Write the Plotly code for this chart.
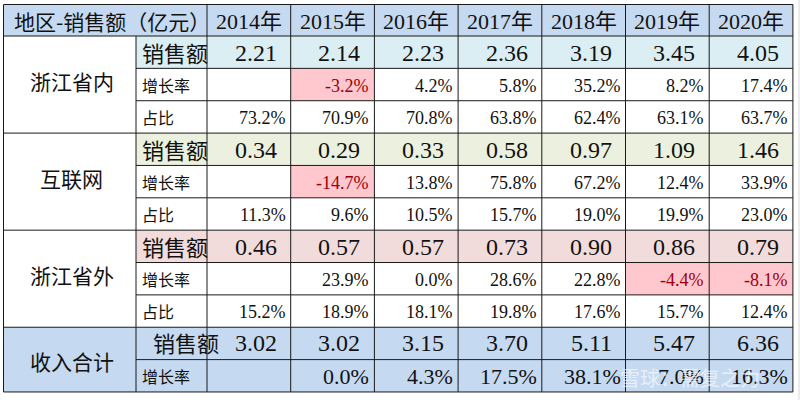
import plotly.graph_objects as go

# ---------------- data ----------------
header_label = "地区-销售额（亿元）"
years = ["2014年", "2015年", "2016年", "2017年", "2018年", "2019年", "2020年"]
regions = ["浙江省内", "互联网", "浙江省外"]
total_label = "收入合计"
metric_labels = ["销售额", "增长率", "占比"]

sales_zj = [2.21, 2.14, 2.23, 2.36, 3.19, 3.45, 4.05]
growth_zj = [None, -3.2, 4.2, 5.8, 35.2, 8.2, 17.4]
share_zj = [73.2, 70.9, 70.8, 63.8, 62.4, 63.1, 63.7]

sales_net = [0.34, 0.29, 0.33, 0.58, 0.97, 1.09, 1.46]
growth_net = [None, -14.7, 13.8, 75.8, 67.2, 12.4, 33.9]
share_net = [11.3, 9.6, 10.5, 15.7, 19.0, 19.9, 23.0]

sales_out = [0.46, 0.57, 0.57, 0.73, 0.90, 0.86, 0.79]
growth_out = [None, 23.9, 0.0, 28.6, 22.8, -4.4, -8.1]
share_out = [15.2, 18.9, 18.1, 19.8, 17.6, 15.7, 12.4]

total_sales = [3.02, 3.02, 3.15, 3.70, 5.11, 5.47, 6.36]
total_growth = [None, 0.0, 4.3, 17.5, 38.1, 7.0, 16.3]

watermark = "雪球：需复之力"

# ---------------- styling / layout ----------------
W, H = 800, 400
X0 = 3.5
COL_W = [132.5, 71] + [83.7] * 7
Y0 = 4.5
HEAD_H = 31.5
ROW_H = 32.36

HEADER_FILL = "#C5D9F1"
SALES_FILLS = ["#DAEEF3", "#EBF1DE", "#F2DCDB"]
NEG_FILL = "#FFC7CE"
NEG_TEXT = "#9C0006"
TOTAL_FILL = "#C5D9F1"
LINE = "#1a1a1a"

CJK = "Noto Sans CJK SC"
NUM = "Liberation Serif, Noto Sans CJK SC"

col_edges = [X0]
for w in COL_W:
    col_edges.append(col_edges[-1] + w)
n_rows = 11
row_edges = [Y0, Y0 + HEAD_H]
for i in range(n_rows):
    row_edges.append(row_edges[-1] + ROW_H)

shapes = []
annotations = []


def rect(x0, x1, y0, y1, fill):
    shapes.append(dict(type="rect", xref="x", yref="y", x0=x0, x1=x1, y0=y0, y1=y1,
                       fillcolor=fill, line=dict(width=0), layer="below"))


def hline(x0, x1, y):
    shapes.append(dict(type="line", xref="x", yref="y", x0=x0, x1=x1, y0=y, y1=y,
                       line=dict(color=LINE, width=1)))


def vline(x, y0, y1):
    shapes.append(dict(type="line", xref="x", yref="y", x0=x, x1=x, y0=y0, y1=y1,
                       line=dict(color=LINE, width=1)))


def text(x, y, s, size, family, color="#111111", anchor="center"):
    annotations.append(dict(x=x, y=y, xref="x", yref="y", text=s, showarrow=False,
                            xanchor=anchor, yanchor="middle",
                            font=dict(size=size, family=family, color=color)))


def cy(r):  # r: body row index 0..10
    return (row_edges[r + 1] + row_edges[r + 2]) / 2


# header
rect(col_edges[0], col_edges[-1], row_edges[0], row_edges[1], HEADER_FILL)
text(col_edges[0] + 8, (row_edges[0] + row_edges[1]) / 2 + 1, header_label, 21, CJK, anchor="left")
for j, yr in enumerate(years):
    text((col_edges[j + 2] + col_edges[j + 3]) / 2, (row_edges[0] + row_edges[1]) / 2 + 1,
         yr, 22, NUM)

blocks = [
    (sales_zj, growth_zj, share_zj),
    (sales_net, growth_net, share_net),
    (sales_out, growth_out, share_out),
]

for b, (sales, growth, share) in enumerate(blocks):
    r0 = 3 * b
    rect(col_edges[1], col_edges[-1], row_edges[r0 + 1], row_edges[r0 + 2], SALES_FILLS[b])
    text((col_edges[0] + col_edges[1]) / 2 + 2, (row_edges[r0 + 1] + row_edges[r0 + 4]) / 2 - 4,
         regions[b], 21, CJK)
    text(col_edges[1] + 4, cy(r0), metric_labels[0], 22, CJK, anchor="left")
    text(col_edges[1] + 4, cy(r0 + 1), metric_labels[1], 16, CJK, anchor="left")
    text(col_edges[1] + 4, cy(r0 + 2), metric_labels[2], 16, CJK, anchor="left")
    for j in range(7):
        xr = col_edges[j + 3]
        text(xr - 12, cy(r0) + 1, f"{sales[j]:.2f}", 24, NUM, anchor="right")
        g = growth[j]
        if g is not None:
            col = "#111111"
            if g < 0:
                rect(col_edges[j + 2], col_edges[j + 3], row_edges[r0 + 2], row_edges[r0 + 3], NEG_FILL)
                col = NEG_TEXT
            text(xr - 3, cy(r0 + 1) + 1, f"{g:.1f}%", 18, NUM, color=col, anchor="right")
        text(xr - 3, cy(r0 + 2) + 1, f"{share[j]:.1f}%", 18, NUM, anchor="right")

# totals block
rect(col_edges[0], col_edges[-1], row_edges[10], row_edges[12], TOTAL_FILL)
text((col_edges[0] + col_edges[1]) / 2 + 2, (row_edges[10] + row_edges[12]) / 2 + 1, total_label, 21, CJK)
text(col_edges[1] + 15, cy(9) - 1, metric_labels[0], 22, CJK, anchor="left")
text(col_edges[1] + 4, cy(10), metric_labels[1], 16, CJK, anchor="left")
for j in range(7):
    xr = col_edges[j + 3]
    text(xr - 12, cy(9), f"{total_sales[j]:.2f}", 24, NUM, anchor="right")
    g = total_growth[j]
    if g is not None:
        text(xr - 3, cy(10) + 1, f"{g:.1f}%", 22, NUM, anchor="right")

# grid lines
top, bottom = row_edges[0], row_edges[-1]
left, right = col_edges[0], col_edges[-1]
hline(left, right, top)
hline(left, right, bottom)
hline(left, right, row_edges[1])
for b in range(4):
    r0 = 3 * b
    if b < 3:
        for k in (1, 2):
            hline(col_edges[1], right, row_edges[r0 + 1 + k])
        hline(left, right, row_edges[r0 + 4])
    else:
        hline(col_edges[1], right, row_edges[11])
vline(left, top, bottom)
vline(right, top, bottom)
vline(col_edges[1], row_edges[1], bottom)
for j in range(2, len(col_edges) - 1):
    vline(col_edges[j], top, bottom)

# faint outside spreadsheet gridline
shapes.append(dict(type="line", xref="x", yref="y", x0=799, x1=799, y0=0, y1=H,
                   line=dict(color="#d9d9d9", width=1)))

# watermark
annotations.append(dict(x=690, y=cy(10) + 2, xref="x", yref="y", text=watermark, showarrow=False,
                        xanchor="center", yanchor="middle", opacity=0.6,
                        font=dict(size=20, family=CJK, color="#ffffff")))

fig = go.Figure()
fig.add_trace(go.Scatter(x=[0, W], y=[0, H], mode="markers", marker=dict(opacity=0),
                         hoverinfo="skip", showlegend=False))
fig.update_layout(
    width=W, height=H, margin=dict(l=0, r=0, t=0, b=0),
    paper_bgcolor="white", plot_bgcolor="white",
    xaxis=dict(range=[0, W], visible=False, fixedrange=True),
    yaxis=dict(range=[H, 0], visible=False, fixedrange=True),
    shapes=shapes, annotations=annotations, showlegend=False,
)
fig.write_html("out.html", config={"displayModeBar": False},
               post_script="document.body.style.margin='0';document.body.style.overflow='hidden';")
